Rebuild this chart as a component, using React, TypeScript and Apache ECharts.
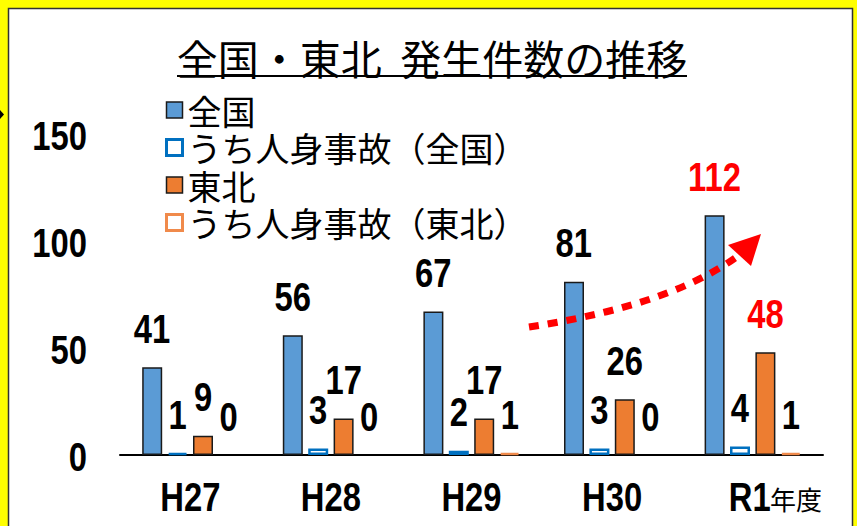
import React, { useEffect, useRef } from "react";
import * as echarts from "echarts";

const categories = ["H27", "H28", "H29", "H30", "R1"];
const zenkoku = [41, 56, 67, 81, 112];
const zenkokuJinshin = [1, 3, 2, 3, 4];
const tohoku = [9, 17, 17, 26, 48];
const tohokuJinshin = [0, 0, 1, 0, 1];
const yTicks = [0, 50, 100, 150];
const seriesNames = ["全国", "うち人身事故（全国）", "東北", "うち人身事故（東北）"];
const titleText = "全国・東北  発生件数の推移";

const NUM_FONT = '"Liberation Sans", Arial, sans-serif';
const JP_FONT = '"Noto Sans CJK JP", sans-serif';
const NARROW = 0.82;
const BAR_W = 20;
const BAR_GAP_PX = 5.5;

export default function App() {
  const ref = useRef<HTMLDivElement>(null);
  useEffect(() => {
    document.body.style.margin = "0";
    const chart = echarts.init(ref.current!, null, { renderer: "svg" });
    const lastIdx = categories.length - 1;
    const mk = (vals: number[]) =>
      vals.map((v) => (v === 0 ? { value: v, itemStyle: { borderWidth: 0 } } : v));

    const seriesVals = [zenkoku, zenkokuJinshin, tohoku, tohokuJinshin];
    const redLast = [true, false, true, false];
    const n = seriesVals.length;

    const numText = (text: string, fill: string, align: string, vAlign: string) => ({
      text,
      fontSize: 40,
      fontWeight: "bold",
      fontFamily: NUM_FONT,
      fill,
      align,
      verticalAlign: vAlign,
    });

    const labelSeries = seriesVals.map((vals, k) => {
      const off = (k - (n - 1) / 2) * (BAR_W + BAR_GAP_PX);
      return {
        type: "custom",
        z: 5,
        silent: true,
        data: vals.map((v, i) => [i, v]),
        renderItem: (params: any, api: any) => {
          const i = api.value(0);
          const v = api.value(1);
          const p = api.coord([i, v]);
          return {
            type: "text",
            x: p[0] + off,
            y: p[1] - 18,
            scaleX: NARROW,
            style: numText(String(v), redLast[k] && i === lastIdx ? "#FF0000" : "#000", "center", "bottom"),
          };
        },
      };
    });

    const xLabelSeries = {
      type: "custom",
      z: 5,
      silent: true,
      data: categories.map((c, i) => [i, 0]),
      renderItem: (params: any, api: any) => {
        const i = api.value(0);
        const p = api.coord([i, 0]);
        return {
          type: "text",
          x: p[0] - (i === lastIdx ? 3 : 0),
          y: p[1] + 42,
          scaleX: NARROW,
          style: numText(categories[i], "#000", "center", "middle"),
        };
      },
    };

    const yLabelSeries = {
      type: "custom",
      z: 5,
      silent: true,
      data: yTicks.map((t) => [0, t]),
      renderItem: (params: any, api: any) => {
        const t = api.value(1);
        const p = api.coord([0, t]);
        const s = api.size([1, 0]);
        return {
          type: "text",
          x: p[0] - s[0] / 2 - 33,
          y: p[1] + 2,
          scaleX: NARROW,
          style: numText(String(t), "#000", "right", "middle"),
        };
      },
    };

    chart.setOption({
      animation: false,
      backgroundColor: "transparent",
      grid: { left: 120, right: 34, top: 134, bottom: 71, containLabel: false },
      legend: {
        orient: "vertical",
        left: 160,
        top: 88,
        itemWidth: 16,
        itemHeight: 16,
        itemGap: 3.5,
        icon: "rect",
        textStyle: { fontSize: 34, lineHeight: 34, color: "#000", fontFamily: JP_FONT },
        data: [
          { name: seriesNames[0], itemStyle: { color: "#5B9BD5", borderColor: "#1a1a1a", borderWidth: 1.5 } },
          { name: seriesNames[1], itemStyle: { color: "#FFFFFF", borderColor: "#0070C0", borderWidth: 3 } },
          { name: seriesNames[2], itemStyle: { color: "#ED7D31", borderColor: "#1a1a1a", borderWidth: 1.5 } },
          { name: seriesNames[3], itemStyle: { color: "#FFFFFF", borderColor: "#F08A4B", borderWidth: 3 } },
        ],
      },
      xAxis: {
        type: "category",
        data: categories,
        axisLine: { lineStyle: { color: "#000", width: 2 } },
        axisTick: { show: false },
        axisLabel: { show: false },
      },
      yAxis: {
        type: "value",
        min: yTicks[0],
        max: yTicks[yTicks.length - 1],
        interval: yTicks[1] - yTicks[0],
        axisLine: { show: false },
        axisTick: { show: false },
        splitLine: { show: false },
        axisLabel: { show: false },
      },
      series: [
        {
          name: seriesNames[0],
          type: "bar",
          barWidth: BAR_W,
          barGap: "27%",
          data: mk(zenkoku),
          itemStyle: { color: "#5B9BD5", borderColor: "#1a1a1a", borderWidth: 1.5 },
        },
        {
          name: seriesNames[1],
          type: "bar",
          barWidth: BAR_W,
          barGap: "27%",
          data: mk(zenkokuJinshin),
          itemStyle: { color: "#FFFFFF", borderColor: "#0070C0", borderWidth: 2.5 },
        },
        {
          name: seriesNames[2],
          type: "bar",
          barWidth: BAR_W,
          barGap: "27%",
          data: mk(tohoku),
          itemStyle: { color: "#ED7D31", borderColor: "#1a1a1a", borderWidth: 1.5 },
        },
        {
          name: seriesNames[3],
          type: "bar",
          barWidth: BAR_W,
          barGap: "27%",
          data: mk(tohokuJinshin),
          itemStyle: { color: "#FFFFFF", borderColor: "#F08A4B", borderWidth: 2.5 },
        },
        ...labelSeries,
        xLabelSeries,
        yLabelSeries,
      ],
      graphic: [
        {
          type: "rect",
          z: -10,
          shape: { x: 8.5, y: 8.5, width: 844, height: 530 },
          style: { fill: "#FFFFFF", stroke: "#333333", lineWidth: 1.5 },
        },
        {
          type: "polygon",
          shape: { points: [[0, 110], [4, 114.5], [0, 119]] },
          style: { fill: "#000" },
        },
        {
          type: "text",
          x: 432,
          y: 57,
          style: {
            text: titleText,
            fontSize: 41,
            fontFamily: JP_FONT,
            fill: "#000",
            align: "center",
            verticalAlign: "middle",
          },
        },
        {
          type: "line",
          shape: { x1: 177, y1: 76, x2: 687, y2: 76 },
          style: { stroke: "#000", lineWidth: 2 },
        },
        {
          type: "text",
          x: 770,
          y: 498,
          style: {
            text: "年度",
            fontSize: 26,
            fontFamily: JP_FONT,
            fill: "#000",
            align: "left",
            verticalAlign: "middle",
          },
        },
        {
          type: "bezierCurve",
          z: 20,
          shape: { x1: 529, y1: 327, cpx1: 600, cpy1: 316, cpx2: 680, cpy2: 297, x2: 735, y2: 258 },
          style: { stroke: "#FF0000", lineWidth: 7, lineDash: [10, 9], fill: null },
        },
        {
          type: "polygon",
          z: 20,
          shape: { points: [[761, 234], [728, 245], [751, 266]] },
          style: { fill: "#FF0000" },
        },
      ],
    });
    return () => chart.dispose();
  }, []);
  return (
    <div style={{ position: "fixed", left: 0, top: 0, width: 857, height: 526, background: "#FFFF00" }}>
      <div ref={ref} style={{ width: 857, height: 526 }} />
    </div>
  );
}
